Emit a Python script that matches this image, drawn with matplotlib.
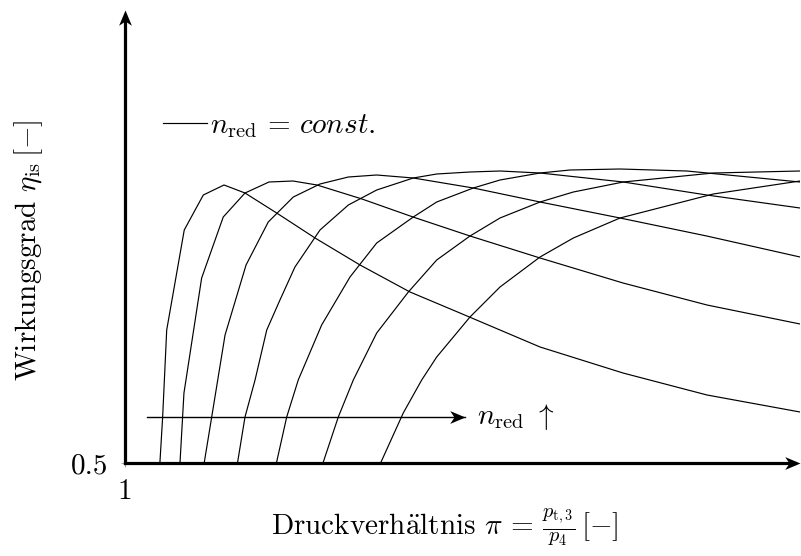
import matplotlib
matplotlib.use("Agg")
import matplotlib.pyplot as plt
import numpy as np
from matplotlib.path import Path
from matplotlib.transforms import Affine2D

plt.rcParams["font.family"] = "cmr10"
plt.rcParams["mathtext.fontset"] = "cm"
plt.rcParams["axes.formatter.use_mathtext"] = True
plt.rcParams["font.size"] = 21

# Kennfeld: Wirkungsgrad ueber Druckverhaeltnis, eine Linie je reduzierter Drehzahl
pi_n1 = [1.233, 1.251, 1.278, 1.395, 1.522, 1.660, 1.800, 2.011, 2.267, 2.567, 2.900, 3.233, 3.767, 4.320, 4.880, 5.500]
eta_n1 = [0.501, 0.546, 0.633, 0.733, 0.768, 0.778, 0.770, 0.750, 0.725, 0.698, 0.671, 0.650, 0.616, 0.590, 0.568, 0.551]

pi_n2 = [1.367, 1.393, 1.511, 1.655, 1.800, 1.960, 2.120, 2.280, 2.580, 2.920, 3.300, 3.767, 4.320, 4.880, 5.500]
eta_n2 = [0.501, 0.570, 0.685, 0.746, 0.770, 0.781, 0.782, 0.778, 0.764, 0.746, 0.727, 0.705, 0.680, 0.658, 0.639]

pi_n3 = [1.529, 1.578, 1.667, 1.807, 1.955, 2.122, 2.300, 2.489, 2.678, 2.922, 3.322, 3.767, 4.300, 4.878, 5.500]
eta_n3 = [0.501, 0.546, 0.628, 0.698, 0.741, 0.766, 0.779, 0.786, 0.788, 0.785, 0.775, 0.761, 0.745, 0.727, 0.706]

pi_n4 = [1.751, 1.800, 1.867, 1.945, 2.033, 2.133, 2.300, 2.489, 2.678, 2.922, 3.078, 3.300, 3.500, 3.767, 4.322, 4.878, 5.500]
eta_n4 = [0.501, 0.546, 0.583, 0.633, 0.663, 0.696, 0.733, 0.758, 0.773, 0.785, 0.789, 0.791, 0.792, 0.790, 0.781, 0.768, 0.755]

pi_n5 = [2.011, 2.078, 2.155, 2.311, 2.500, 2.678, 2.922, 3.078, 3.322, 3.500, 3.767, 3.967, 4.300, 4.745, 5.500]
eta_n5 = [0.501, 0.546, 0.583, 0.638, 0.686, 0.720, 0.746, 0.761, 0.775, 0.783, 0.790, 0.793, 0.794, 0.792, 0.781]

pi_n6 = [2.322, 2.422, 2.522, 2.678, 2.889, 3.078, 3.300, 3.500, 3.767, 3.989, 4.322, 4.922, 5.500]
eta_n6 = [0.501, 0.546, 0.583, 0.630, 0.671, 0.703, 0.727, 0.745, 0.761, 0.771, 0.781, 0.790, 0.792]

pi_n7 = [2.707, 2.855, 2.978, 3.078, 3.300, 3.500, 3.767, 3.989, 4.300, 4.922, 5.500]
eta_n7 = [0.501, 0.550, 0.583, 0.606, 0.646, 0.676, 0.706, 0.725, 0.745, 0.769, 0.782]

speed_lines = [(pi_n1, eta_n1), (pi_n2, eta_n2), (pi_n3, eta_n3), (pi_n4, eta_n4),
               (pi_n5, eta_n5), (pi_n6, eta_n6), (pi_n7, eta_n7)]

x_ticks = [1]
x_tick_labels = ["1"]
y_ticks = [0.5]
y_tick_labels = ["0.5"]

# Pfeil fuer steigende Drehzahl
arrow_pi = (1.147, 3.267)
arrow_eta = 0.546

# stealth-artige Pfeilspitze, Spitze im Ursprung
stealth = Path([(0, 0), (-1, 0.42), (-0.72, 0), (-1, -0.42), (0, 0)],
               [Path.MOVETO, Path.LINETO, Path.LINETO, Path.LINETO, Path.CLOSEPOLY])
stealth_up = stealth.transformed(Affine2D().rotate_deg(90))

fig = plt.figure(figsize=(8.01, 5.56), dpi=100)
ax = fig.add_axes([125 / 801, 93 / 556, 675 / 801, 453 / 556])
ax.set_xlim(1, 5.5)
ax.set_ylim(0.5, 0.953)

lines = []
for pi, eta in speed_lines:
    ln, = ax.plot(pi, eta, color="black", lw=0.85, solid_joinstyle="miter")
    lines.append(ln)

ax.legend([lines[0]], [r"$n_{\mathrm{red}} \,=\, \mathit{const.}$"],
          loc="center left", bbox_to_anchor=(0.056, 0.744), frameon=False,
          borderpad=0, borderaxespad=0, handlelength=1.5, handletextpad=0.12)

# n_red-Pfeil
ax.plot(arrow_pi, [arrow_eta, arrow_eta], color="black", lw=1.0)
ax.plot(arrow_pi[1], arrow_eta, marker=stealth, ms=22, color="black", mew=0)
ax.text(arrow_pi[1] + 0.08, arrow_eta, r"$n_{\mathrm{red}}\ \uparrow$",
        ha="left", va="center")

# Achsen mit Pfeilen
for side in ["top", "right"]:
    ax.spines[side].set_visible(False)
for side in ["left", "bottom"]:
    ax.spines[side].set_linewidth(2.3)
ax.spines["bottom"].set_bounds(1, 5.46)
ax.spines["left"].set_bounds(0.5, 0.945)
ax.plot(1, 0, marker=stealth, ms=22, color="black", mew=0,
        transform=ax.transAxes, clip_on=False)
ax.plot(0, 1, marker=stealth_up, ms=22, color="black", mew=0,
        transform=ax.transAxes, clip_on=False)

ax.set_xticks(x_ticks, labels=x_tick_labels)
ax.set_yticks(y_ticks, labels=y_tick_labels)
ax.tick_params(axis="both", direction="out", length=3, width=0.6, color="0.6")
ax.tick_params(axis="y", pad=9)
ax.tick_params(axis="x", pad=8)

ax.set_xlabel(r"Druckverh$\ddot{\mathrm{a}}$ltnis $\pi \,=\, \frac{p_{\mathrm{t},3}}{p_4}\,[-]$")
ax.xaxis.set_label_coords(0.474, -0.097)
ax.set_ylabel(r"Wirkungsgrad $\eta_{\mathrm{is}}\,[-]$")
ax.yaxis.set_label_coords(-0.118, 0.47)

fig.savefig("out.png", dpi=100)
